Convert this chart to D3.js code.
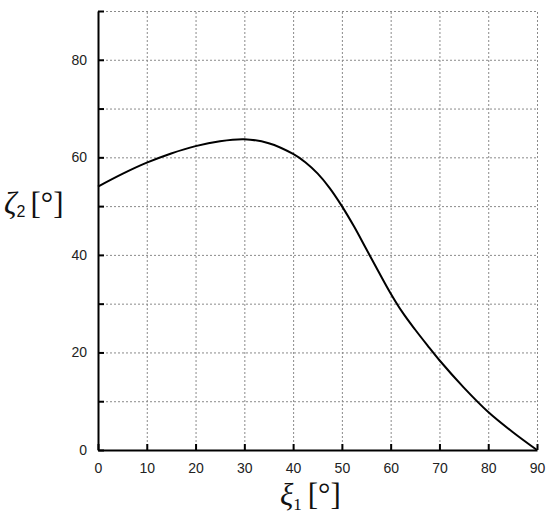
<!DOCTYPE html>
<html>
<head>
<meta charset="utf-8">
<script src="https://cdn.jsdelivr.net/npm/d3@7"></script>
<style>
  body { margin: 0; background: #fff; }
  .tick text { font-family: "Liberation Sans", Arial, sans-serif; font-size: 14px; fill: #222; }
  .lbl { font-family: "Liberation Serif", "Times New Roman", serif; fill: #111; }
</style>
</head>
<body>
<div id="chart"></div>
<script>
// xi_1 values (degrees) and the read-off zeta_2 values (degrees)
var xiVals = [0, 5, 10, 15, 20, 25, 30, 35, 40, 42.5, 45, 47.5, 50, 52.5, 55, 57.5, 60, 62.5, 65, 67.5, 70, 75, 80, 85, 90];
var zetaVals = [54.0, 56.6, 58.9, 60.8, 62.3, 63.3, 63.7, 62.9, 60.7, 59.0, 56.7, 53.7, 50.0, 45.8, 41.2, 36.6, 32.1, 28.1, 24.7, 21.5, 18.4, 12.8, 7.8, 3.7, 0];

var xTicks = [0, 10, 20, 30, 40, 50, 60, 70, 80, 90];
var yTicks = [0, 10, 20, 30, 40, 50, 60, 70, 80, 90];
var yTickLabels = [0, 20, 40, 60, 80];

var W = 550, H = 522;
var margin = {left: 98, top: 11, right: 13, bottom: 72};

var svg = d3.select("#chart").append("svg")
    .attr("width", W)
    .attr("height", H);

var x = d3.scaleLinear().domain([0, 90]).range([margin.left, W - margin.right]);
var y = d3.scaleLinear().domain([0, 90]).range([H - margin.bottom, margin.top]);

// dotted grid
var grid = svg.append("g").attr("stroke", "#8a8a8a").attr("stroke-width", 1)
    .attr("stroke-dasharray", "2,2");
grid.selectAll(".gx").data(xTicks.slice(1)).enter().append("line")
    .attr("x1", d => x(d) + 0.5).attr("x2", d => x(d) + 0.5)
    .attr("y1", y(0)).attr("y2", y(90));
grid.selectAll(".gy").data(yTicks.slice(1)).enter().append("line")
    .attr("y1", d => y(d) + 0.5).attr("y2", d => y(d) + 0.5)
    .attr("x1", x(0)).attr("x2", x(90));

// axes, ticks point inward
var xAxis = d3.axisBottom(x).tickValues(xTicks).tickSizeInner(-6).tickSizeOuter(0).tickPadding(13);
var yAxis = d3.axisLeft(y).tickValues(yTicks).tickSizeInner(-6).tickSizeOuter(0).tickPadding(11)
    .tickFormat(d => yTickLabels.indexOf(d) >= 0 ? d : "");

var gx = svg.append("g").attr("transform", "translate(0," + y(0) + ")").call(xAxis);
var gy = svg.append("g").attr("transform", "translate(" + x(0) + ",0)").call(yAxis);
[gx, gy].forEach(g => {
  g.select(".domain").attr("stroke", "#000").attr("stroke-width", 2);
  g.selectAll(".tick line").attr("stroke", "#000").attr("stroke-width", 2);
});

// curve
var line = d3.line()
    .x((d, i) => x(xiVals[i]))
    .y(d => y(d))
    .curve(d3.curveCatmullRom.alpha(0.5));

svg.append("path")
    .datum(zetaVals)
    .attr("fill", "none")
    .attr("stroke", "#000")
    .attr("stroke-width", 2)
    .attr("d", line);

// axis titles
var yl = svg.append("text").attr("class", "lbl").attr("x", 4).attr("y", 214).style("font-size", "31px");
yl.append("tspan").attr("font-style", "italic").text("ζ");
yl.append("tspan").attr("dy", 3).style("font-size", "16px").attr("font-family", "Liberation Sans, Arial, sans-serif").text("2");
yl.append("tspan").attr("dy", -3).attr("dx", 5).text("[°]");

var xl = svg.append("text").attr("class", "lbl").attr("x", 280).attr("y", 505).style("font-size", "31px");
xl.append("tspan").attr("font-style", "italic").text("ξ");
xl.append("tspan").attr("dy", 5).style("font-size", "17px").text("1");
xl.append("tspan").attr("dy", -5).attr("dx", 6).text("[°]");
</script>
</body>
</html>
